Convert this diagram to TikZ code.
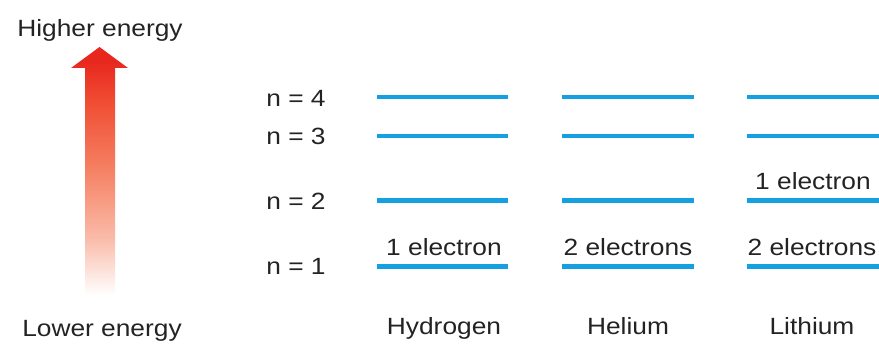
\documentclass[tikz,border=0pt]{standalone}
\usepackage{fontspec}
\setmainfont{Liberation Sans}[FakeStretch=1.12]
\usepackage{tikz}
\definecolor{bleuNiveau}{RGB}{20,160,225}
\definecolor{rougeFleche}{RGB}{232,40,30}
\definecolor{rougeClair}{RGB}{240,78,52}
\definecolor{orangeFleche}{RGB}{245,128,98}
\definecolor{saumonFleche}{RGB}{250,188,170}
\definecolor{grisTexte}{RGB}{35,35,35}
\pgfdeclareverticalshading{degradeFleche}{100bp}{color(0bp)=(white); color(26bp)=(white);
  color(37bp)=(saumonFleche); color(51bp)=(orangeFleche); color(64bp)=(rougeClair);
  color(72bp)=(rougeFleche); color(100bp)=(rougeFleche)}
\tikzset{
  niveau/.style={draw=bleuNiveau, line width=4.5pt},
  etiquette/.style={font=\fontsize{23.5}{28}\selectfont, text=grisTexte, inner sep=0pt, anchor=base}
}

\begin{document}
\begin{tikzpicture}[x=1pt, y=-1pt]
\useasboundingbox (0,0) rectangle (879,344);

% Flèche d'énergie
\shade[shading=degradeFleche]
  (85,300) -- (85,68) -- (71,68) -- (99.5,47) -- (128,68) -- (115,68) -- (115,300) -- cycle;
\node[etiquette] (haut) at (100,37) {Higher energy};
\node[etiquette] (bas) at (102,337) {Lower energy};

% Nombres quantiques
\node[etiquette] (n4) at (296,106.5) {n = 4};
\node[etiquette] (n3) at (296,145) {n = 3};
\node[etiquette] (n2) at (296,210) {n = 2};
\node[etiquette] (n1) at (296,275) {n = 1};

% Niveaux hydrogène
\draw[niveau] (377,97) -- (508,97);
\draw[niveau] (377,136) -- (508,136);
\draw[niveau] (377,200.5) -- (508,200.5);
\draw[niveau] (377,266.5) -- (508,266.5);

% Niveaux hélium
\draw[niveau] (562,97) -- (694,97);
\draw[niveau] (562,136) -- (694,136);
\draw[niveau] (562,200.5) -- (694,200.5);
\draw[niveau] (562,266.5) -- (694,266.5);

% Niveaux lithium
\draw[niveau] (747,97) -- (879,97);
\draw[niveau] (747,136) -- (879,136);
\draw[niveau] (747,200.5) -- (879,200.5);
\draw[niveau] (747,266.5) -- (879,266.5);

% Électrons
\node[etiquette] (hyd1) at (444,255.5) {1 electron};
\node[etiquette] (hel1) at (628,255.5) {2 electrons};
\node[etiquette] (lit2) at (813,190) {1 electron};
\node[etiquette] (lit1) at (812,255.5) {2 electrons};

% Éléments
\node[etiquette] (hydrogene) at (444,335) {Hydrogen};
\node[etiquette] (helium) at (628,335) {Helium};
\node[etiquette] (lithium) at (812,335) {Lithium};

\end{tikzpicture}
\end{document}
